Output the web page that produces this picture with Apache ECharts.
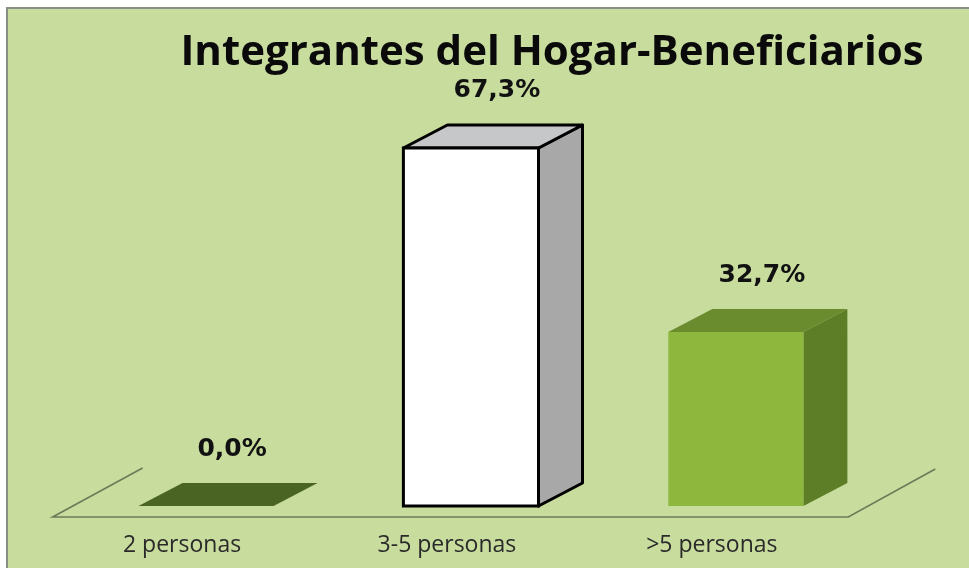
<!DOCTYPE html>
<html><head><meta charset="utf-8">
<script src="https://cdn.jsdelivr.net/npm/echarts@6/dist/echarts.min.js"></script>
<style>html,body{margin:0;padding:0;background:#fff;} #chart{width:969px;height:568px;}</style>
</head><body><div id="chart"></div>
<script>
// ---- data ----
const categories = ['2 personas', '3-5 personas', '>5 personas'];
const values = [0.0, 67.3, 32.7];
const valueLabels = ['0,0%', '67,3%', '32,7%'];
const titleText = 'Integrantes del Hogar-Beneficiarios';

// ---- styles ----
const faceStyles = [
  {front: '#4b6622', side: '#40591c', top: '#4a6523', stroke: null},
  {front: '#ffffff', side: '#a8a8a8', top: '#c6c7c9', stroke: '#000000'},
  {front: '#8db73d', side: '#5d7e27', top: '#6a8c2e', stroke: null}
];
const DX = 44, DY = -23;

function renderBar(params, api) {
  const idx = params.dataIndex;
  const cat = api.value(0);
  const base = api.coord([cat, 0]);
  const top = api.coord([cat, api.value(1)]);
  const bw = api.size([1, 0])[0] * 0.51;
  const x0 = base[0] - bw / 2, x1 = base[0] + bw / 2;
  const yb = base[1], yt = top[1];
  const s = faceStyles[idx];
  const lw = s.stroke ? 3 : 0;
  const children = [];
  const hasHeight = yb - yt > 0.5;
  if (hasHeight) {
    children.push({type: 'polygon', shape: {points: [[x1, yt], [x1 + DX, yt + DY], [x1 + DX, yb + DY], [x1, yb]]},
      style: {fill: s.side, stroke: s.stroke, lineWidth: lw, lineJoin: 'round'}});
  }
  children.push({type: 'polygon', shape: {points: [[x0, yt], [x0 + DX, yt + DY], [x1 + DX, yt + DY], [x1, yt]]},
    style: {fill: s.top, stroke: s.stroke, lineWidth: lw, lineJoin: 'round'}});
  if (hasHeight) {
    children.push({type: 'rect', shape: {x: x0, y: yt, width: bw, height: yb - yt},
      style: {fill: s.front, stroke: s.stroke, lineWidth: lw}});
  }
  children.push({type: 'text', z2: 20, style: {text: valueLabels[idx], x: base[0] + 26, y: yt + DY - 34,
    align: 'center', verticalAlign: 'middle', font: 'bold 25px "DejaVu Sans"', fill: '#111111'}});
  return {type: 'group', children: children};
}

function renderFloor(params, api) {
  const cs = params.coordSys;
  const yb = cs.y + cs.height;
  const fy = yb + 11;
  const xl = cs.x - 21, xr = cs.x + cs.width - 20;
  return {type: 'polyline',
    shape: {points: [[xl + 90, fy - 49], [xl, fy], [xr, fy], [xr + 87, fy - 48]]},
    style: {stroke: '#6c7a58', lineWidth: 1.6, fill: null}};
}

const chart = echarts.init(document.getElementById('chart'), null, {renderer: 'canvas'});
chart.setOption({
  backgroundColor: '#ffffff',
  animation: false,
  graphic: [
    {type: 'rect', z: -10, shape: {x: 7, y: 8, width: 980, height: 580},
      style: {fill: '#c8dc9e', stroke: '#8a8f86', lineWidth: 2}},
    {type: 'text', z: 10, x: 552, y: 53,
      style: {text: titleText, align: 'center', verticalAlign: 'middle',
        font: 'bold 42px "Open Sans"', fill: '#0a0a0a'}}
  ],
  grid: {left: 73.6, right: 100.7, top: 80.4, bottom: 62},
  xAxis: {
    type: 'category', data: categories,
    axisLine: {show: false}, axisTick: {show: false}, splitLine: {show: false},
    axisLabel: {margin: 28, fontFamily: 'Open Sans', fontSize: 23, color: '#2a2a2a', padding: [0, 48, 0, 0]}
  },
  yAxis: {type: 'value', min: 0, max: 80, show: false},
  series: [
    {type: 'custom', renderItem: renderFloor, data: [[0, 0]], z: 1, silent: true},
    {type: 'custom', renderItem: renderBar, z: 2,
      data: values.map((v, i) => [i, v])}
  ]
});
</script></body></html>
